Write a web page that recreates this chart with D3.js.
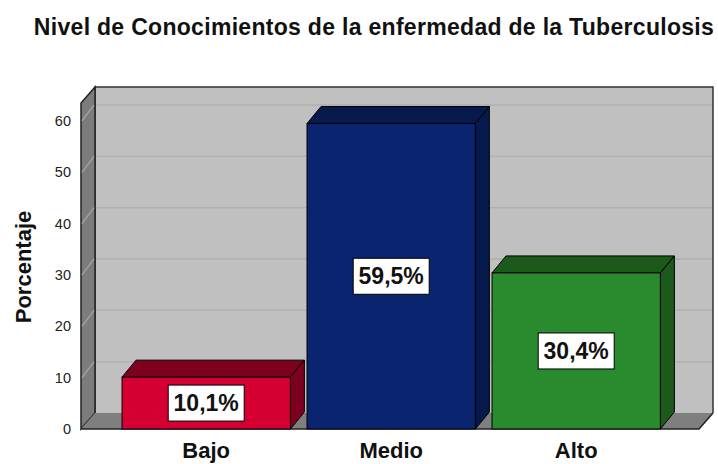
<!DOCTYPE html>
<html><head><meta charset="utf-8">
<script src="https://cdn.jsdelivr.net/npm/d3@7"></script>
<style>body{margin:0;background:#fff}svg{display:block}</style>
</head><body>
<script>
const categories = ["Bajo", "Medio", "Alto"];
const values = [10.1, 59.5, 30.4];
const valueLabels = ["10,1%", "59,5%", "30,4%"];
const frontColors = ["#d50031", "#0b2470", "#2a8a2e"];
const darkColors = ["#7d001f", "#06194c", "#1c5a1c"];
const yTicks = [0, 10, 20, 30, 40, 50, 60];
const title = "Nivel de Conocimientos de la enfermedad de la Tuberculosis";
const yTitle = "Porcentaje";

const W = 718, H = 464;
const svg = d3.select("body").append("svg").attr("width", W).attr("height", H);
svg.append("rect").attr("width", W).attr("height", H).attr("fill", "#fff");

const x0 = 81, x1 = 699;           // front floor extent
const dx = 14, dy = -16;           // wall depth
const bdx = 14, bdy = -17;         // bar depth
const y = d3.scaleLinear().domain([0, 63.5]).range([429, 103]);
const x = d3.scaleBand().domain(categories).range([113.7, 668.7]).paddingInner(0.09).paddingOuter(0.045);

const font = "'Liberation Sans', Arial, sans-serif";

// back wall
svg.append("rect").attr("x", x0 + dx).attr("y", y(63.5) + dy).attr("width", x1 - x0)
  .attr("height", y(0) - y(63.5)).attr("fill", "#c0c0c0");
// back gridlines
svg.selectAll(".bg").data(yTicks.filter(d => d > 0)).join("line")
  .attr("x1", x0 + dx).attr("x2", x1 + dx).attr("y1", d => y(d) + dy).attr("y2", d => y(d) + dy)
  .attr("stroke", "#b1b1b1").attr("stroke-width", 1.5);
// back wall outline
svg.append("path").attr("d", `M${x0+dx},${y(0)+dy}V${y(63.5)+dy}H${x1+dx}V${y(0)+dy}`)
  .attr("fill", "none").attr("stroke", "#333").attr("stroke-width", 1.5);

// left wall
svg.append("path")
  .attr("d", `M${x0},${y(0)}L${x0},${y(63.5)}L${x0+dx},${y(63.5)+dy}L${x0+dx},${y(0)+dy}Z`)
  .attr("fill", "#7c7c7c").attr("stroke", "#222").attr("stroke-width", 1.5);
svg.selectAll(".lg").data(yTicks.filter(d => d > 0)).join("line")
  .attr("x1", x0 + 1).attr("x2", x0 + dx - 1).attr("y1", d => y(d)).attr("y2", d => y(d) + dy)
  .attr("stroke", "#a6a6a6").attr("stroke-width", 1.2);

// floor
svg.append("path")
  .attr("d", `M${x0},${y(0)}L${x1},${y(0)}L${x1+dx},${y(0)+dy}L${x0+dx},${y(0)+dy}Z`)
  .attr("fill", "#7f7f7f");
svg.append("path")
  .attr("d", `M${x0},${y(0)}L${x1},${y(0)}L${x1+dx},${y(0)+dy}`)
  .attr("fill", "none").attr("stroke", "#222").attr("stroke-width", 1.5);

// y tick labels
svg.selectAll(".yt").data(yTicks).join("text")
  .attr("x", 71).attr("y", d => y(d) + 5).attr("text-anchor", "end")
  .attr("font-family", font).attr("font-size", 14.5).attr("fill", "#222").text(d => d);

// bars
const bars = svg.selectAll(".bar").data(values).join("g");
bars.each(function(v, i) {
  const g = d3.select(this);
  const bx = x(categories[i]), bw = x.bandwidth();
  const yt = y(v), yb = y(0);
  g.append("path") // top
    .attr("d", `M${bx},${yt}L${bx+bdx},${yt+bdy}L${bx+bw+bdx},${yt+bdy}L${bx+bw},${yt}Z`)
    .attr("fill", darkColors[i]).attr("stroke", "#000").attr("stroke-width", 1);
  g.append("path") // side
    .attr("d", `M${bx+bw},${yt}L${bx+bw+bdx},${yt+bdy}L${bx+bw+bdx},${yb+bdy}L${bx+bw},${yb}Z`)
    .attr("fill", darkColors[i]).attr("stroke", "#000").attr("stroke-width", 1);
  g.append("rect").attr("x", bx).attr("y", yt).attr("width", bw).attr("height", yb - yt)
    .attr("fill", frontColors[i]).attr("stroke", "#000").attr("stroke-width", 1);
  const cx = bx + bw / 2, cy = (yt + yb) / 2;
  g.append("rect").attr("x", cx - 38).attr("y", cy - 18).attr("width", 76).attr("height", 36)
    .attr("fill", "#fff").attr("stroke", "#000").attr("stroke-width", 1);
  g.append("text").attr("x", cx).attr("y", cy + 8).attr("text-anchor", "middle")
    .attr("font-family", font).attr("font-size", 23).attr("font-weight", "bold")
    .attr("fill", "#111").text(valueLabels[i]);
});

// category labels
svg.selectAll(".cat").data(categories).join("text")
  .attr("x", d => x(d) + x.bandwidth() / 2).attr("y", 458).attr("text-anchor", "middle")
  .attr("font-family", font).attr("font-size", 22).attr("font-weight", "bold")
  .attr("fill", "#111").text(d => d);

// y title
svg.append("text").attr("transform", "translate(31,267) rotate(-90)").attr("text-anchor", "middle")
  .attr("font-family", font).attr("font-size", 22).attr("font-weight", "bold")
  .attr("fill", "#111").text(yTitle);

// title
svg.append("text").attr("x", 374).attr("y", 35).attr("text-anchor", "middle")
  .attr("font-family", font).attr("font-size", 23).attr("font-weight", "bold")
  .attr("letter-spacing", 0.3)
  .attr("fill", "#111").text(title);
</script>
</body></html>
